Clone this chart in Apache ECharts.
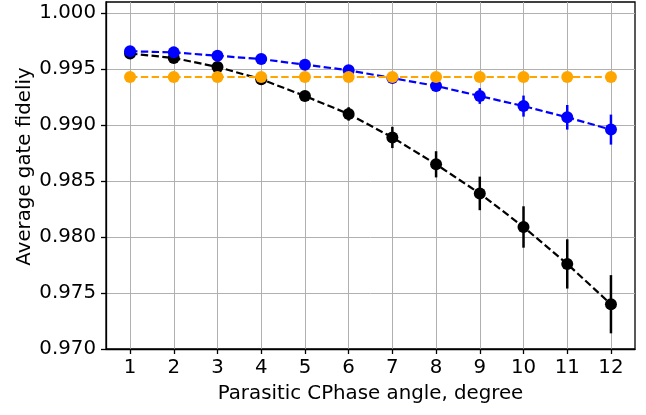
<!DOCTYPE html>
<html>
<head>
<meta charset="utf-8">
<script src="https://cdn.jsdelivr.net/npm/echarts@6/dist/echarts.min.js"></script>
<style>html,body{margin:0;padding:0;background:#fff}#c{width:646px;height:415px}</style>
</head>
<body>
<div id="c"></div>
<script>
const angles = [1, 2, 3, 4, 5, 6, 7, 8, 9, 10, 11, 12];
const blackY = [0.9964, 0.9960, 0.9952, 0.9941, 0.9926, 0.9910, 0.9889, 0.9865, 0.9839, 0.9809, 0.9776, 0.9740];
const blackErr = [0.0001, 0.0002, 0.0002, 0.0003, 0.0004, 0.0006, 0.00095, 0.00117, 0.0015, 0.00185, 0.0022, 0.0026];
const blueY = [0.9966, 0.9965, 0.9962, 0.9959, 0.9954, 0.9949, 0.9942, 0.9935, 0.9926, 0.9917, 0.9907, 0.9896];
const blueErr = [0.0001, 0.0001, 0.0001, 0.0002, 0.0002, 0.0003, 0.0004, 0.0005, 0.0007, 0.00094, 0.0011, 0.00134];
const orangeY = [0.9943, 0.9943, 0.9943, 0.9943, 0.9943, 0.9943, 0.9943, 0.9943, 0.9943, 0.9943, 0.9943, 0.9943];
const orangeErr = [0.0001, 0.0001, 0.0001, 0.0001, 0.0001, 0.0001, 0.0001, 0.0001, 0.0001, 0.0001, 0.0001, 0.0001];
const xTicks = [1, 2, 3, 4, 5, 6, 7, 8, 9, 10, 11, 12];
const yTicks = [0.970, 0.975, 0.980, 0.985, 0.990, 0.995, 1.000];
const xLimits = [0.45, 12.55];
const yLimits = [0.970, 1.001];
const xTitle = 'Parasitic CPhase angle, degree';
const yTitle = 'Average gate fideliy';

const FONT = 'DejaVu Sans';
const FS = 19.8;

function pts(ys) { return angles.map((a, i) => [a, ys[i]]); }
function errData(ys, es) { return angles.map((a, i) => [a, ys[i] - es[i], ys[i] + es[i]]); }

function errSeries(ys, es, color, z) {
  return {
    type: 'custom', z: z, silent: true,
    data: errData(ys, es),
    renderItem: function (params, api) {
      const p1 = api.coord([api.value(0), api.value(1)]);
      const p2 = api.coord([api.value(0), api.value(2)]);
      return { type: 'line', shape: { x1: p1[0], y1: p1[1], x2: p2[0], y2: p2[1] },
               style: { stroke: color, lineWidth: 2.5 } };
    }
  };
}
function lineSeries(ys, color, z) {
  return {
    type: 'line', z: z, data: pts(ys), symbol: 'circle', symbolSize: 12, showAllSymbol: true,
    silent: true, animation: false,
    itemStyle: { color: color, borderWidth: 0 },
    lineStyle: { color: color, width: 2.2, type: [7.4, 3.4] }
  };
}

const chart = echarts.init(document.getElementById('c'), null, { renderer: 'canvas' });
chart.setOption({
  animation: false,
  textStyle: { fontFamily: FONT },
  grid: { left: 106, right: 11, top: 2, bottom: 66, show: true, borderColor: '#000', borderWidth: 1.3, backgroundColor: 'transparent' },
  graphic: [{
    type: 'text', x: 24.5, y: 166.5, rotation: Math.PI / 2, silent: true,
    style: { text: yTitle, fontFamily: FONT, fontSize: FS, fill: '#000', align: 'center', verticalAlign: 'middle' }
  }],
  xAxis: {
    type: 'value', min: xLimits[0], max: xLimits[1],
    name: xTitle, nameLocation: 'middle', nameGap: 35,
    nameTextStyle: { fontFamily: FONT, fontSize: FS, color: '#000' },
    axisLine: { show: true, onZero: false, lineStyle: { color: '#000', width: 1.3 } },
    axisTick: { show: true, length: 5, lineStyle: { color: '#000', width: 1.3 }, customValues: xTicks },
    axisLabel: { fontFamily: FONT, fontSize: FS, color: '#000', margin: 9, customValues: xTicks, formatter: v => String(v) },
    splitLine: { show: true, lineStyle: { color: '#b0b0b0', width: 1 } }
  },
  yAxis: {
    type: 'value', min: yLimits[0], max: yLimits[1],
    axisLine: { show: true, onZero: false, lineStyle: { color: '#000', width: 1.3 } },
    axisTick: { show: true, length: 5, lineStyle: { color: '#000', width: 1.3 }, customValues: yTicks },
    axisLabel: { fontFamily: FONT, fontSize: FS, color: '#000', margin: 10, customValues: yTicks, formatter: v => v.toFixed(3) },
    splitLine: { show: true, lineStyle: { color: '#b0b0b0', width: 1 } }
  },
  series: [
    errSeries(blackY, blackErr, '#000000', 2),
    lineSeries(blackY, '#000000', 3),
    errSeries(blueY, blueErr, '#0000ff', 4),
    lineSeries(blueY, '#0000ff', 5),
    errSeries(orangeY, orangeErr, '#ffa500', 6),
    lineSeries(orangeY, '#ffa500', 7)
  ]
});
</script>
</body>
</html>
